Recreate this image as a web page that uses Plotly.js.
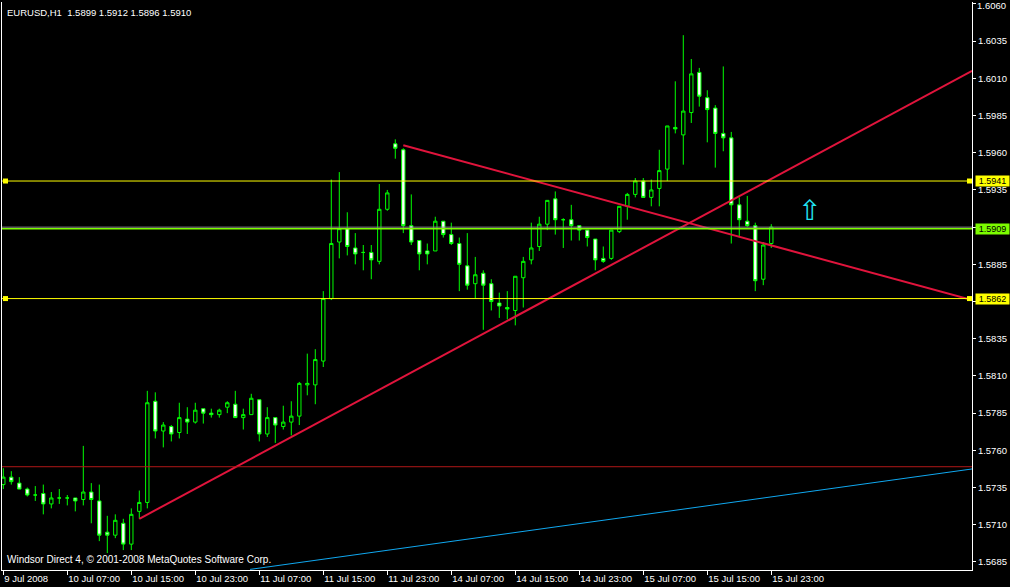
<!DOCTYPE html>
<html><head><meta charset="utf-8">
<script src="https://cdn.plot.ly/plotly-3.0.1.min.js"></script>
<style>html,body{margin:0;padding:0;background:#000;}#chart{width:1010px;height:587px;}</style>
</head><body><div id="chart"></div>
<script>
// ---- data (EURUSD H1, 9 Jul 2008 23:00 .. 15 Jul 2008 23:00) ----
const symbolName = 'EURUSD,H1';
const open = [1.5737,1.5742,1.5738,1.5734,1.5730,1.5731,1.5724,1.5728,1.5728,1.5728,
  1.5727,1.5732,1.5726,1.5705,1.5703,1.5711,1.5697,1.5719,1.5725,1.5793,
  1.5773,1.5776,1.5772,1.5781,1.5779,1.5788,1.5785,1.5784,1.5789,1.5791,
  1.5782,1.5784,1.5794,1.5771,1.5782,1.5776,1.5779,1.5783,1.5804,1.5804,
  1.5820,1.5862,1.5900,1.5909,1.5896,1.5893,1.5893,1.5887,1.5922,1.5966,
  1.5962,1.5911,1.5901,1.5894,1.5894,1.5914,1.5905,1.5899,1.5884,1.5872,
  1.5879,1.5872,1.5859,1.5856,1.5854,1.5876,1.5888,1.5897,1.5912,1.5929,
  1.5915,1.5915,1.5911,1.5908,1.5902,1.5889,1.5889,1.5907,1.5924,1.5932,
  1.5941,1.5930,1.5936,1.5949,1.5977,1.5972,1.5987,1.6014,1.5997,1.5990,
  1.5973,1.5970,1.5925,1.5914,1.5911,1.5875,1.5899];
const high = [1.5748,1.5746,1.5742,1.5735,1.5736,1.5737,1.5732,1.5734,1.5730,1.5728,
  1.5763,1.5738,1.5737,1.5716,1.5717,1.5714,1.5721,1.5733,1.5800,1.5799,
  1.5779,1.5777,1.5792,1.5789,1.5792,1.5788,1.5788,1.5788,1.5793,1.5800,
  1.5788,1.5798,1.5794,1.5789,1.5782,1.5790,1.5793,1.5806,1.5825,1.5828,
  1.5867,1.5942,1.5947,1.5920,1.5906,1.5898,1.5898,1.5939,1.5935,1.5969,
  1.5963,1.5932,1.5901,1.5899,1.5917,1.5914,1.5913,1.5903,1.5906,1.5890,
  1.5881,1.5875,1.5866,1.5867,1.5877,1.5890,1.5913,1.5917,1.5928,1.5934,
  1.5916,1.5925,1.5911,1.5908,1.5902,1.5897,1.5908,1.5924,1.5933,1.5943,
  1.5943,1.5942,1.5962,1.5978,1.6008,1.6039,1.6023,1.6017,1.6002,1.5992,
  1.6018,1.5974,1.5930,1.5931,1.5913,1.5900,1.5912];
const low = [1.5734,1.5737,1.5734,1.5729,1.5726,1.5717,1.5721,1.5724,1.5723,1.5719,
  1.5723,1.5711,1.5699,1.5691,1.5701,1.5693,1.5693,1.5714,1.5721,1.5768,
  1.5762,1.5766,1.5768,1.5771,1.5778,1.5778,1.5782,1.5782,1.5785,1.5782,
  1.5774,1.5784,1.5766,1.5769,1.5765,1.5774,1.5770,1.5777,1.5797,1.5791,
  1.5816,1.5861,1.5889,1.5891,1.5885,1.5881,1.5875,1.5885,1.5921,1.5956,
  1.5906,1.5898,1.5881,1.5885,1.5894,1.5903,1.5898,1.5867,1.5868,1.5862,
  1.5841,1.5854,1.5849,1.5848,1.5844,1.5856,1.5885,1.5894,1.5908,1.5905,
  1.5896,1.5901,1.5901,1.5897,1.5881,1.5886,1.5888,1.5906,1.5915,1.5930,
  1.5930,1.5924,1.5924,1.5941,1.5973,1.5952,1.5980,1.5991,1.5967,1.5950,
  1.5961,1.5899,1.5903,1.5910,1.5867,1.5871,1.5896];
const close = [1.5742,1.5739,1.5734,1.5730,1.5730,1.5724,1.5728,1.5728,1.5728,1.5726,
  1.5732,1.5727,1.5703,1.5703,1.5713,1.5697,1.5717,1.5725,1.5792,1.5773,
  1.5777,1.5771,1.5782,1.5779,1.5787,1.5785,1.5784,1.5787,1.5792,1.5782,
  1.5784,1.5795,1.5771,1.5782,1.5777,1.5779,1.5783,1.5805,1.5805,1.5821,
  1.5862,1.5899,1.5909,1.5897,1.5892,1.5893,1.5888,1.5922,1.5933,1.5963,
  1.5911,1.5900,1.5892,1.5892,1.5914,1.5905,1.5899,1.5885,1.5871,1.5878,
  1.5871,1.5860,1.5857,1.5855,1.5877,1.5887,1.5896,1.5912,1.5928,1.5915,
  1.5915,1.5911,1.5908,1.5903,1.5888,1.5887,1.5908,1.5924,1.5932,1.5941,
  1.5930,1.5935,1.5948,1.5978,1.5976,1.5988,1.6013,1.5998,1.5989,1.5973,
  1.5970,1.5925,1.5915,1.5911,1.5874,1.5898,1.5910];

const tickIndex = [0,8,16,24,32,40,48,56,64,72,80,88,96];
const tickText = ['9 Jul 2008','10 Jul 07:00','10 Jul 15:00','10 Jul 23:00','11 Jul 07:00',
  '11 Jul 15:00','11 Jul 23:00','14 Jul 07:00','14 Jul 15:00','14 Jul 23:00',
  '15 Jul 07:00','15 Jul 15:00','15 Jul 23:00'];
const priceTicks = [1.5685,1.5710,1.5735,1.5760,1.5785,1.5810,1.5835,1.5860,1.5885,1.5910,
  1.5935,1.5960,1.5985,1.6010,1.6035,1.6060];

// horizontal levels
const levelUpper = 1.5941;
const levelMiddle = 1.5909;
const levelLower = 1.5862;
const bidPrice = 1.5910;
const levelRed = 1.5749;

// trend lines (bar index, price)
const trendUpX = [17, 121.1],    trendUpY = [1.5714, 1.6015];
const trendDownX = [50, 121.1],  trendDownY = [1.5965, 1.5861];
const trendBlueX = [30.85, 121.1], trendBlueY = [1.5680, 1.57475];
const arrowBar = 100.8, arrowPrice = 1.5921;

// ---- chart ----
const bars = open.map((_, i) => i);
const FONT = '"Liberation Sans", Arial, sans-serif';
const green = '#00ff00';
const boxedLevels = [levelUpper, levelMiddle, levelLower];
const topTick = priceTicks[priceTicks.length - 1];

const traces = [
  {type:'candlestick', x:bars, open:open, high:high, low:low, close:close,
   increasing:{line:{color:green,width:1}, fillcolor:'#000000'},
   decreasing:{line:{color:green,width:1}, fillcolor:'#ffffff'},
   whiskerwidth:0, hoverinfo:'skip'},
  {type:'scatter', mode:'lines', x:trendBlueX, y:trendBlueY, line:{color:'#10a8f0', width:1}, hoverinfo:'skip'},
  {type:'scatter', mode:'lines', x:trendUpX, y:trendUpY, line:{color:'#e0143c', width:2}, hoverinfo:'skip'},
  {type:'scatter', mode:'lines', x:trendDownX, y:trendDownY, line:{color:'#e0143c', width:2}, hoverinfo:'skip'}
];

function hline(y, color, width) {
  return {type:'line', xref:'paper', x0:0, x1:1, yref:'y', y0:y, y1:y, line:{color:color, width:width}};
}
function marker(y, side) {
  return {type:'rect', xref:'paper', xsizemode:'pixel', xanchor:side, x0: side ? -5 : 1, x1: side ? 0 : 6,
    yref:'y', ysizemode:'pixel', yanchor:y, y0:-2.5, y1:2.5,
    fillcolor:'#ffff00', line:{color:'#ffff00', width:0}};
}
const shapes = [
  hline(levelRed, '#b01818', 1),
  hline(bidPrice, '#8c8c8c', 1),
  hline(levelMiddle, '#7cfc00', 1.5),
  hline(levelUpper, '#ffff00', 1),
  hline(levelLower, '#ffff00', 1),
  marker(levelUpper, 0), marker(levelUpper, 1),
  marker(levelLower, 0), marker(levelLower, 1)
];

function priceBox(y, bg) {
  return {xref:'paper', x:1, xanchor:'left', xshift:3, yref:'y', y:y, yanchor:'middle',
    text:y.toFixed(4), showarrow:false, bgcolor:bg, width:33, height:10, borderpad:0,
    font:{family:FONT, size:9, color:'#000'}};
}
// tick labels hidden under the price boxes; the top label is placed as an annotation so it stays inside the page
const priceTickText = priceTicks.map(v =>
  (boxedLevels.some(b => Math.abs(b - v) < 0.00045) || v === topTick) ? '' : v.toFixed(4));

const last = open.length - 1;
const annotations = [
  {xref:'paper', x:0, xanchor:'left', xshift:3, yref:'paper', y:1, yanchor:'top', yshift:-3,
   text: symbolName + '\u00a0\u00a0' + [open[last], high[last], low[last], close[last]].map(v => v.toFixed(4)).join(' '),
   showarrow:false, font:{family:FONT, size:9.5, color:'#fff'}},
  {xref:'paper', x:0, xanchor:'left', xshift:3, yref:'paper', y:0, yanchor:'bottom', yshift:3,
   text:'Windsor Direct 4, \u00a9 2001-2008 MetaQuotes Software Corp.',
   showarrow:false, font:{family:FONT, size:10, color:'#fff'}},
  {xref:'paper', x:1, xanchor:'left', xshift:4, yref:'paper', y:1, yanchor:'top', yshift:3,
   text:topTick.toFixed(4), showarrow:false, borderpad:0,
   font:{family:FONT, size:9.5, color:'#fff'}},
  {x:arrowBar, y:arrowPrice, xref:'x', yref:'y', text:'\u21e7', showarrow:false,
   font:{family:'"DejaVu Sans", sans-serif', size:28, color:'#22e4f4'}},
  priceBox(levelUpper, '#ffff00'),
  priceBox(levelMiddle, '#7cfc00'),
  priceBox(levelLower, '#ffff00')
];

const layout = {
  width:1010, height:587,
  paper_bgcolor:'#000', plot_bgcolor:'#000',
  margin:{l:2, r:38, t:2, b:17, pad:0},
  showlegend:false, hovermode:false, dragmode:false,
  boxgap:0.4,
  font:{family:FONT, size:9, color:'#fff'},
  xaxis:{type:'linear', range:[-0.1625, 121.09], tickvals:tickIndex, ticktext:tickText,
    ticks:'outside', ticklen:4, tickcolor:'#fff', tickwidth:1,
    ticklabelposition:'outside right', ticklabeloverflow:'allow',
    showgrid:false, zeroline:false, showline:true, linecolor:'#fff', linewidth:1,
    rangeslider:{visible:false}, fixedrange:true,
    tickfont:{family:FONT, size:9.5, color:'#fff'}},
  yaxis:{side:'right', range:[1.56796, 1.60613], tickvals:priceTicks, ticktext:priceTickText,
    ticks:'outside', ticklen:3, tickcolor:'#fff', tickwidth:1, ticklabeloverflow:'allow',
    showgrid:false, zeroline:false, showline:true, mirror:true, linecolor:'#fff', linewidth:1,
    fixedrange:true, tickfont:{family:FONT, size:9.5, color:'#fff'}},
  shapes:shapes,
  annotations:annotations
};

Plotly.newPlot('chart', traces, layout, {staticPlot:true, displayModeBar:false});
</script>
</body></html>
